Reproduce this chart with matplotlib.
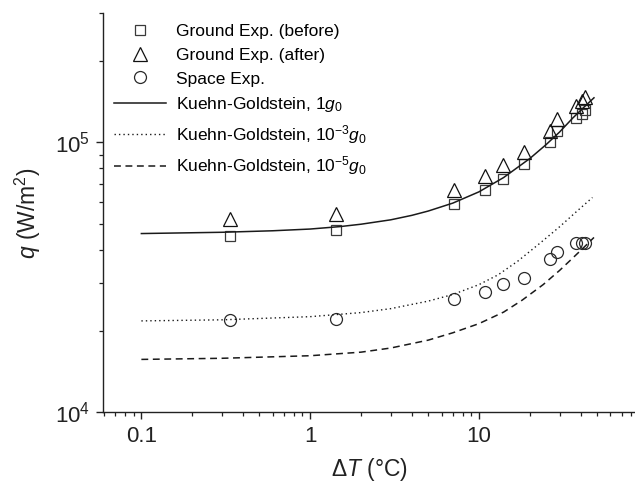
import numpy as np
import matplotlib
matplotlib.use("Agg")
import matplotlib.pyplot as plt

plt.rcParams['font.family'] = ['Liberation Sans', 'DejaVu Sans']
plt.rcParams['mathtext.fontset'] = 'custom'
plt.rcParams['mathtext.rm'] = 'Liberation Sans'
plt.rcParams['mathtext.it'] = 'Liberation Sans:italic'
plt.rcParams['mathtext.bf'] = 'Liberation Sans:bold'

dT_ground = [0.333, 1.43, 7.1, 10.8, 13.9, 18.5, 26.3, 28.8, 37.5, 40.5, 42.4]
q_before = [45000, 47300, 58900, 66400, 73300, 82800, 100000, 110000, 123000, 127100, 132100]
q_after = [51900, 54400, 66400, 75000, 82300, 92000, 110000, 122000, 135900, 141700, 146500]

dT_space = [0.333, 1.43, 7.1, 10.8, 13.9, 18.5, 26.3, 28.8, 37.5, 40.5, 42.4]
q_space = [21900, 22100, 26200, 27800, 29900, 31300, 37000, 39100, 42400, 42400, 42400]

# Kuehn-Goldstein curves (sampled from the figure)
kg1_x = [0.1, 0.3, 0.6, 1, 1.5, 2, 3, 4, 5, 7, 10, 14, 20, 25, 30, 36, 42, 48]
kg1_q = [45900, 46400, 47000, 47700, 48700, 49700, 51600, 53600, 55600, 59500,
         65500, 74000, 87000, 98000, 109000, 123000, 135000, 146000]

kg3_x = [0.1, 0.3, 1, 2, 3, 5, 7, 10, 13, 17, 23, 30, 38, 47]
kg3_q = [21800, 22000, 22600, 23400, 24200, 25800, 27300, 29700, 32300, 36300,
         42300, 48600, 55500, 62400]

kg5_x = [0.1, 0.3, 1, 2, 3, 5, 7, 10, 14, 18, 24, 30, 36, 42, 48]
kg5_q = [15700, 15850, 16200, 16700, 17300, 18500, 19700, 21300, 23500, 26000,
         29700, 33500, 37300, 40900, 44400]

fig = plt.figure(figsize=(6.35, 4.86), dpi=100)
ax = fig.add_axes([0.1627, 0.1516, 0.8373, 0.821])

mk = dict(linestyle='none', markerfacecolor='none', markeredgewidth=0.9)
ax.plot(dT_ground, q_before, marker='s', markersize=7.3, markeredgecolor='#3a3a3a',
        label='Ground Exp. (before)', **mk)
ax.plot(dT_ground, q_after, marker='^', markersize=9.6, markeredgecolor='#111111',
        label='Ground Exp. (after)', **mk)
ax.plot(dT_space, q_space, marker='o', markersize=8.6, markeredgecolor='#2a2a2a',
        label='Space Exp.', **mk)

ax.plot(kg1_x, kg1_q, color='#1a1a1a', lw=1.1, label='Kuehn-Goldstein, 1$g_0$')
ax.plot(kg3_x, kg3_q, color='#1a1a1a', lw=1.0, linestyle=(0, (1, 2.2)),
        label='Kuehn-Goldstein, 10$^{-3}$$g_0$')
ax.plot(kg5_x, kg5_q, color='#1a1a1a', lw=1.1, linestyle=(0, (4.5, 3)),
        label='Kuehn-Goldstein, 10$^{-5}$$g_0$')

ax.set_xscale('log')
ax.set_yscale('log')
ax.set_xlim(0.0595, 84)
ax.set_ylim(1e4, 3e5)

ax.spines['top'].set_visible(False)
ax.spines['right'].set_visible(False)
for s in ['left', 'bottom']:
    ax.spines[s].set_linewidth(1.0)
    ax.spines[s].set_color('#222222')

ax.tick_params(which='major', direction='out', length=5, width=1.0, labelsize=16,
               pad=4.5, colors='#222222')
ax.tick_params(which='minor', direction='out', length=3.2, width=0.9, colors='#222222')
ax.set_xticks([0.1, 1, 10])
ax.set_xticklabels(['0.1', '1', '10'])

ax.set_xlabel(r'$\mathit{\Delta T}$ (°C)', fontsize=16.5, color='#222222', labelpad=7)
ax.set_ylabel(r'$q$ (W/m$^2$)', fontsize=16.5, color='#222222', labelpad=9)

ax.legend(loc='upper left', frameon=False, fontsize=12.5, numpoints=1,
          handlelength=3.0, handletextpad=0.6, labelspacing=0.5,
          borderaxespad=0.2, bbox_to_anchor=(0.0, 1.0))

fig.savefig('out.png', dpi=100)
